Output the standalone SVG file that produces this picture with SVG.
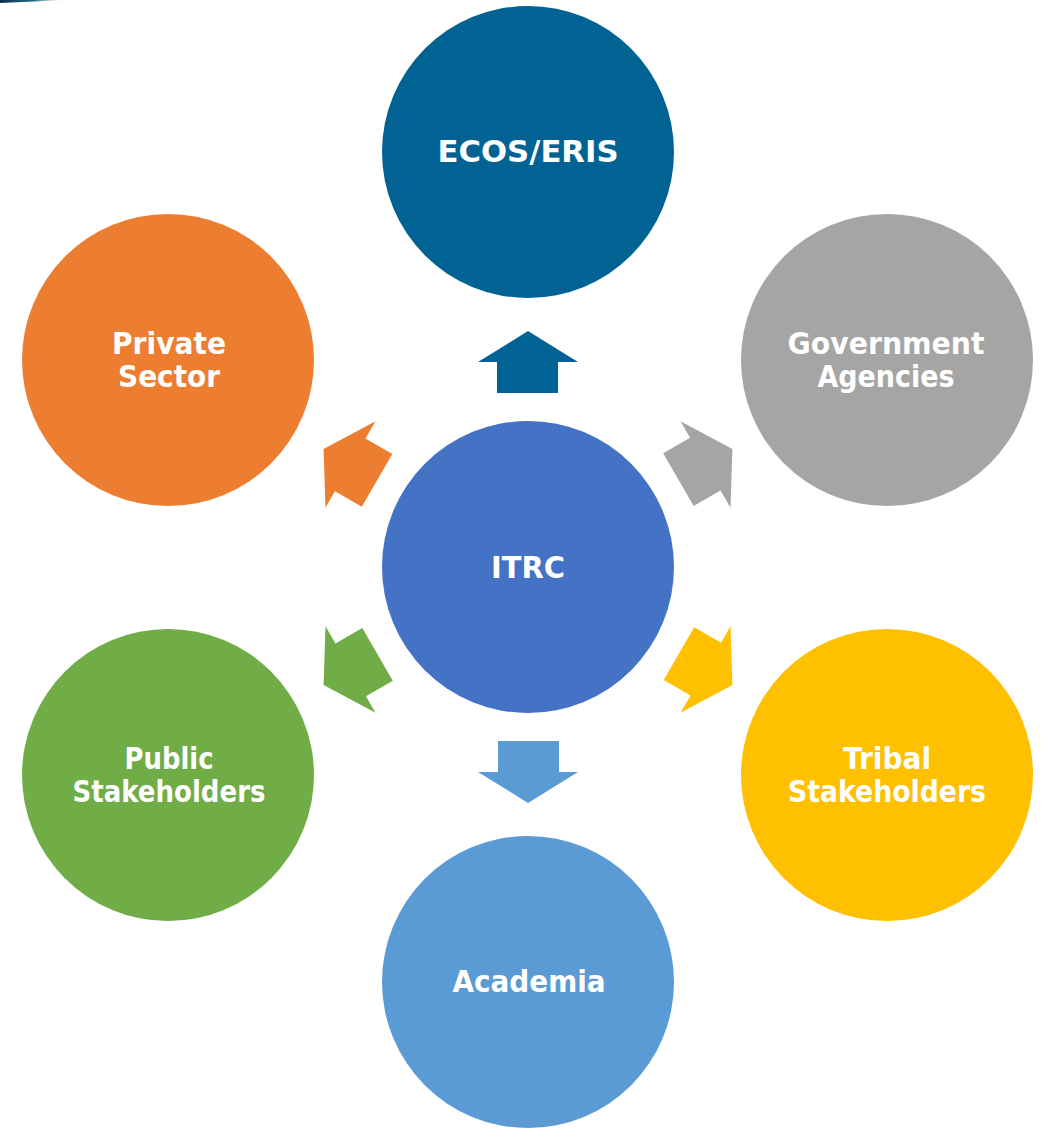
<svg xmlns="http://www.w3.org/2000/svg" width="1041" height="1128" viewBox="0 0 1041 1128">
<defs>
<linearGradient id="fade" x1="0" y1="0" x2="1" y2="0">
<stop offset="0" stop-color="#0b2c44"/>
<stop offset="0.5" stop-color="#2a6f93"/>
<stop offset="1" stop-color="#ffffff" stop-opacity="0"/>
</linearGradient>
<path id="arrow" d="M528,331 L578,362 L558,362 L558,393 L497,393 L497,362 L478,362 Z"/>
</defs>
<style>
text{font-family:"DejaVu Sans",Verdana,sans-serif;font-weight:bold;font-size:30px;fill:#ffffff;text-anchor:middle}
</style>
<rect width="1041" height="1128" fill="#ffffff"/>
<polygon points="0,0 70,0 0,3" fill="url(#fade)"/>
<g id="connectors">
<use href="#arrow" fill="#006394"/>
<use href="#arrow" fill="#A5A5A5" transform="rotate(60 528 567)"/>
<use href="#arrow" fill="#FFC000" transform="rotate(120 528 567)"/>
<use href="#arrow" fill="#5B9BD5" transform="rotate(180 528 567)"/>
<use href="#arrow" fill="#70AD47" transform="rotate(-120 528 567)"/>
<use href="#arrow" fill="#ED7D31" transform="rotate(-60 528 567)"/>
</g>
<g id="itrc">
<circle cx="528" cy="567" r="146" fill="#4472C4"/>
<text x="528" y="578" textLength="74" lengthAdjust="spacingAndGlyphs">ITRC</text>
</g>
<g id="ecos">
<circle cx="528" cy="152" r="146" fill="#006394"/>
<text x="528" y="162" textLength="181" lengthAdjust="spacingAndGlyphs">ECOS/ERIS</text>
</g>
<g id="government">
<circle cx="887" cy="360" r="146" fill="#A5A5A5"/>
<text x="886" y="354" textLength="197" lengthAdjust="spacingAndGlyphs">Government</text>
<text x="886" y="387" textLength="137" lengthAdjust="spacingAndGlyphs">Agencies</text>
</g>
<g id="tribal">
<circle cx="887" cy="775" r="146" fill="#FFC000"/>
<text x="887" y="769" textLength="88" lengthAdjust="spacingAndGlyphs">Tribal</text>
<text x="887" y="802" textLength="198" lengthAdjust="spacingAndGlyphs">Stakeholders</text>
</g>
<g id="academia">
<circle cx="528" cy="982" r="146" fill="#5B9BD5"/>
<text x="529" y="992" textLength="153" lengthAdjust="spacingAndGlyphs">Academia</text>
</g>
<g id="public">
<circle cx="168" cy="775" r="146" fill="#70AD47"/>
<text x="169" y="769" textLength="89" lengthAdjust="spacingAndGlyphs">Public</text>
<text x="169" y="802" textLength="193" lengthAdjust="spacingAndGlyphs">Stakeholders</text>
</g>
<g id="private">
<circle cx="168" cy="360" r="146" fill="#ED7D31"/>
<text x="169" y="354" textLength="114" lengthAdjust="spacingAndGlyphs">Private</text>
<text x="169" y="387" textLength="102" lengthAdjust="spacingAndGlyphs">Sector</text>
</g>
</svg>
